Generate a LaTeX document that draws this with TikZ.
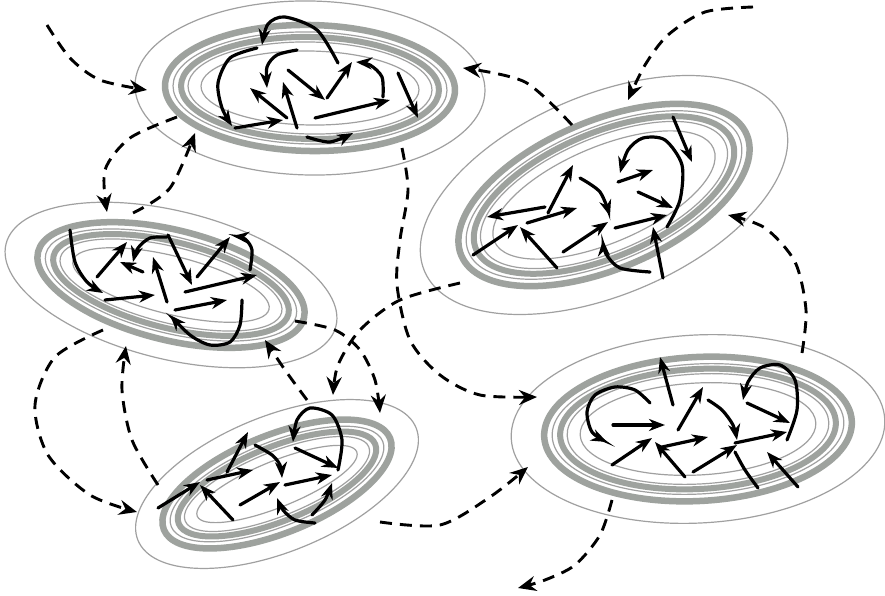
\documentclass[tikz,border=0pt]{standalone}
\usetikzlibrary{arrows.meta}
\definecolor{ringgray}{RGB}{158,162,158}
\definecolor{thingray}{RGB}{160,160,160}
\tikzset{
  thinring/.style={draw=thingray,line width=1.2pt},
  thickring/.style={draw=ringgray,line width=6.5pt},
  inarrow/.style={line width=3.2pt,line cap=round,-{Stealth[length=16pt,width=12pt,inset=5pt]}},
  inline/.style={line width=3.2pt,line cap=round},
  flow/.style={line width=2.9pt,dash pattern=on 12pt off 8pt,-{Stealth[length=18pt,width=15pt,inset=6pt]}},
}
% name, center, angle, A, B, a, b
\newcommand\cluster[7]{%
  \coordinate (#1) at #2;
  \begin{scope}[shift={#2},rotate=#3]
    \draw[thinring] (0,0) ellipse[x radius=#4,y radius=#5];
    \draw[thickring] (0,0) ellipse[x radius=#6,y radius=#7];
    \draw[thinring] (0,0) ellipse[x radius=#6-8,y radius=#7-7];
    \draw[thickring,line width=6pt] (0,0) ellipse[x radius=#6-16,y radius=#7-12];
    \draw[thinring] (0,0) ellipse[x radius=#6-23,y radius=#7-17];
    \draw[thinring] (0,0) ellipse[x radius=#6-36,y radius=#7-26];
  \end{scope}}
\begin{document}
\begin{tikzpicture}[x=1pt,y=-1pt]
\useasboundingbox (0,0) rectangle (885,596);
\fill[white] (0,0) rectangle (885,596);

% ---------- clusters (rings) ----------
\cluster{c1}{(310,88)}{-1}{175}{87}{145}{63}
\cluster{c2}{(604,195)}{23}{195}{100}{155}{74}
\cluster{c3}{(171,285)}{-14}{170}{74}{137}{55}
\cluster{c4}{(277,484)}{22}{150}{68}{122}{49}
\cluster{c5}{(698,429)}{3}{187}{94}{154}{72}

% ---------- cluster 1 arrows ----------
\draw[inarrow] (287,118) -- (250,88);
\draw[inarrow] (297,128) -- (283,82);
\draw[inarrow] (288,70) -- (325,100);
\draw[inarrow] (327,98) -- (352,62);
\draw[inarrow] (315,118) -- (390,100);
\draw[inarrow] (398,73) -- (418,118);
\draw[inarrow] (235,128) -- (283,120);
\draw[inarrow] plot[smooth] coordinates {(338,63) (317,30) (285,17) (268,24) (262,45)};
\draw[inarrow] plot[smooth] coordinates {(257,48) (230,58) (218,83) (222,108) (232,126)};
\draw[inarrow] plot[smooth] coordinates {(297,50) (277,55) (267,67) (267,88)};
\draw[inarrow] plot[smooth] coordinates {(383,97) (382,77) (370,65) (356,62)};
\draw[inarrow] plot[smooth] coordinates {(307,137) (330,142) (353,133)};

% ---------- cluster 2 arrows ----------
\draw[inarrow] (545,207) -- (487,217);
\draw[inarrow] (527,223) -- (577,208);
\draw[inarrow] (548,213) -- (573,165);
\draw[inarrow] (473,255) -- (518,225);
\draw[inarrow] (557,268) -- (520,227);
\draw[inarrow] (563,252) -- (608,222);
\draw[inarrow] (615,228) -- (667,215);
\draw[inarrow] (638,192) -- (673,208);
\draw[inarrow] (663,278) -- (653,227);
\draw[inarrow] (673,117) -- (692,162);
\draw[inarrow] (618,182) -- (653,170);
\draw[inarrow] plot[smooth] coordinates {(580,178) (600,192) (610,216)};
\draw[inarrow] plot[smooth] coordinates {(667,227) (680,200) (682,165) (665,140) (643,138) (628,150) (620,173)};
\draw[inarrow] plot[smooth] coordinates {(650,272) (620,268) (606,254) (603,240)};

% ---------- cluster 3 arrows ----------
\draw[inarrow] (97,277) -- (127,242);
\draw[inarrow] (143,272) -- (120,262);
\draw[inarrow] (105,300) -- (155,295);
\draw[inarrow] (167,302) -- (153,257);
\draw[inarrow] (168,235) -- (192,285);
\draw[inarrow] (197,277) -- (230,237);
\draw[inarrow] (185,292) -- (257,275);
\draw[inarrow] (175,310) -- (227,300);
\draw[inarrow] plot[smooth] coordinates {(70,230) (75,262) (87,282) (103,293)};
\draw[inarrow] plot[smooth] coordinates {(167,237) (150,238) (138,248) (133,262)};
\draw[inarrow] plot[smooth] coordinates {(250,270) (252,250) (245,239) (233,236)};
\draw[inarrow] plot[smooth] coordinates {(242,300) (240,325) (230,342) (210,345) (190,335) (170,315)};

% ---------- cluster 4 arrows ----------
\draw[inarrow] (158,508) -- (200,482);
\draw[inarrow] (233,520) -- (200,485);
\draw[inarrow] (207,480) -- (253,470);
\draw[inarrow] (227,472) -- (248,432);
\draw[inarrow] (240,505) -- (280,482);
\draw[inarrow] (285,485) -- (332,475);
\draw[inarrow] (295,448) -- (338,468);
\draw[inarrow] plot[smooth] coordinates {(255,445) (272,455) (280,465) (282,478)};
\draw[inarrow] plot[smooth] coordinates {(338,470) (342,440) (332,415) (310,408) (297,420) (293,442)};
\draw[inarrow] plot[smooth] coordinates {(315,523) (295,520) (283,510) (277,498)};
\draw[inarrow] plot[smooth] coordinates {(312,515) (325,500) (332,483)};

% ---------- cluster 5 arrows ----------
\draw[inarrow] (613,425) -- (665,425);
\draw[inarrow] (612,465) -- (652,438);
\draw[inarrow] (685,477) -- (655,442);
\draw[inarrow] (662,447) -- (708,437);
\draw[inarrow] (678,430) -- (703,387);
\draw[inarrow] (673,405) -- (660,357);
\draw[inarrow] (693,472) -- (737,445);
\draw[inarrow] (735,443) -- (787,432);
\draw[inarrow] (747,403) -- (790,423);
\draw[inarrow] (798,487) -- (767,452);
\draw[inarrow] plot[smooth] coordinates {(650,403) (635,390) (615,387) (595,395) (587,412) (592,432) (607,442)};
\draw[inarrow] plot[smooth] coordinates {(708,400) (722,410) (733,425) (737,440)};
\draw[inarrow] plot[smooth] coordinates {(787,440) (797,410) (795,380) (780,365) (760,368) (748,382) (743,400)};
\draw[inline] plot[smooth] coordinates {(735,452) (745,470) (758,488)};

% ---------- dashed flows between clusters ----------
\draw[flow] plot[smooth] coordinates {(47,25) (70,58) (100,80) (147,90)};
\draw[flow] plot[smooth] coordinates {(753,7) (705,12) (668,35) (645,65) (628,100)};
\draw[flow] plot[smooth] coordinates {(572,125) (525,82) (463,68)};
\draw[flow] plot[smooth] coordinates {(402,148) (408,190) (400,240) (397,285) (410,340) (440,375) (480,395) (537,397)};
\draw[flow] plot[smooth] coordinates {(177,117) (130,138) (105,170) (107,212)};
\draw[flow] plot[smooth] coordinates {(133,213) (170,188) (195,133)};
\draw[flow] plot[smooth] coordinates {(103,330) (55,357) (35,405) (48,455) (90,495) (137,512)};
\draw[flow] plot[smooth] coordinates {(158,485) (132,440) (122,390) (126,346)};
\draw[flow] plot[smooth] coordinates {(295,321) (335,330) (360,350) (375,380) (380,413)};
\draw[flow] plot[smooth] coordinates {(307,400) (285,370) (265,340)};
\draw[flow] plot[smooth] coordinates {(460,283) (400,300) (360,330) (338,365) (333,395)};
\draw[flow] plot[smooth] coordinates {(380,522) (440,525) (490,497) (528,467)};
\draw[flow] plot[smooth] coordinates {(802,353) (806,310) (795,262) (765,228) (728,215)};
\draw[flow] plot[smooth] coordinates {(612,500) (600,535) (575,565) (545,580) (518,588)};
\end{tikzpicture}
\end{document}
